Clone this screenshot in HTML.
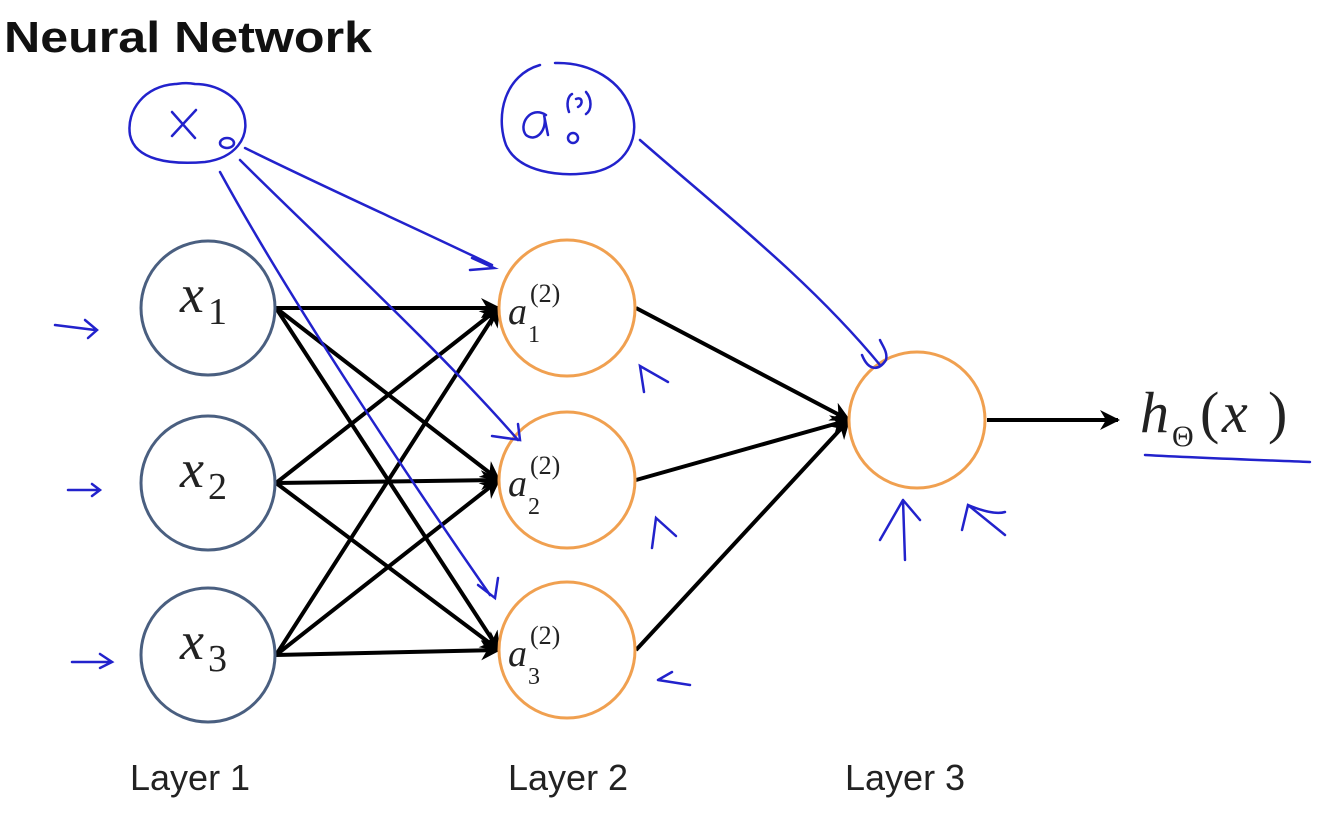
<!DOCTYPE html>
<html><head><meta charset="utf-8"><style>
html,body{margin:0;padding:0;background:#fff;}
svg{display:block;}
.m{font-family:"Liberation Serif",serif;font-style:italic;fill:#222;}
.n{font-family:"Liberation Serif",serif;fill:#222;}
.lab{font-family:"Liberation Sans",sans-serif;font-size:36px;fill:#222;}
</style></head><body>
<svg width="1324" height="834" viewBox="0 0 1324 834" xmlns="http://www.w3.org/2000/svg">
<defs>
<marker id="ah" viewBox="0 0 10 10" refX="9" refY="5" markerWidth="5" markerHeight="5" orient="auto-start-reverse" markerUnits="strokeWidth">
<path d="M0,0 L10,5 L0,10 L3,5 z" fill="#000"/>
</marker>
</defs>
<text x="4" y="52" font-family="Liberation Sans, sans-serif" font-weight="bold" font-size="44" textLength="368" lengthAdjust="spacingAndGlyphs" fill="#111">Neural Network</text>

<g stroke="#000" stroke-width="4" fill="none" marker-end="url(#ah)">
<line x1="276" y1="308" x2="499" y2="308"/>
<line x1="276" y1="308" x2="499" y2="480"/>
<line x1="276" y1="308" x2="499" y2="650"/>
<line x1="276" y1="483" x2="499" y2="308"/>
<line x1="276" y1="483" x2="499" y2="480"/>
<line x1="276" y1="483" x2="499" y2="650"/>
<line x1="276" y1="655" x2="499" y2="308"/>
<line x1="276" y1="655" x2="499" y2="480"/>
<line x1="276" y1="655" x2="499" y2="650"/>
<line x1="636" y1="308" x2="849" y2="420"/>
<line x1="636" y1="480" x2="849" y2="420"/>
<line x1="636" y1="650" x2="849" y2="420"/>
<line x1="987" y1="420" x2="1118" y2="420"/>
</g>

<g fill="#fff" stroke="#4a5f80" stroke-width="3">
<circle cx="208" cy="308" r="67"/>
<circle cx="208" cy="483" r="67"/>
<circle cx="208" cy="655" r="67"/>
</g>
<g fill="#fff" stroke="#f0a050" stroke-width="3">
<circle cx="567" cy="308" r="68"/>
<circle cx="567" cy="480" r="68"/>
<circle cx="567" cy="650" r="68"/>
<circle cx="917" cy="420" r="68"/>
</g>

<text class="m" x="180" y="312" font-size="54">x</text><text class="n" x="208" y="324" font-size="38">1</text>
<text class="m" x="180" y="487" font-size="54">x</text><text class="n" x="208" y="499" font-size="38">2</text>
<text class="m" x="180" y="659" font-size="54">x</text><text class="n" x="208" y="671" font-size="38">3</text>

<g>
<text class="m" x="508" y="324" font-size="38">a</text><text class="n" x="528" y="342" font-size="24">1</text><text class="n" x="530" y="302" font-size="26">(2)</text>
<text class="m" x="508" y="496" font-size="38">a</text><text class="n" x="528" y="514" font-size="24">2</text><text class="n" x="530" y="474" font-size="26">(2)</text>
<text class="m" x="508" y="666" font-size="38">a</text><text class="n" x="528" y="684" font-size="24">3</text><text class="n" x="530" y="644" font-size="26">(2)</text>
</g>

<text class="m" x="1140" y="432" font-size="58">h</text>
<text class="n" x="1172" y="446" font-size="30">Θ</text>
<text class="n" x="1200" y="432" font-size="58">(</text>
<text class="m" x="1222" y="432" font-size="58">x</text>
<text class="n" x="1268" y="432" font-size="58">)</text>

<text class="lab" x="130" y="790">Layer 1</text>
<text class="lab" x="508" y="790">Layer 2</text>
<text class="lab" x="845" y="790">Layer 3</text>

<g stroke="#2222cc" stroke-width="2.5" fill="none" stroke-linecap="round">
<path d="M175,84 C145,86 126,110 130,135 C135,160 170,165 205,162 C235,158 250,138 244,115 C238,95 215,84 195,84 C185,82 178,84 175,84"/>
<path d="M172,112 L195,138 M196,110 L172,136"/>
<ellipse cx="227" cy="143" rx="7" ry="5"/>
<path d="M540,65 C505,75 495,115 506,145 C518,172 560,178 595,172 C625,165 640,140 632,112 C622,80 590,62 555,63"/>
<path d="M546,115 C530,105 518,125 526,135 C536,143 548,130 544,115 L548,135"/>
<ellipse cx="573" cy="138" rx="5" ry="5"/>
<path d="M569,112 C566,104 568,96 572,94 M576,99 C582,96 584,104 578,107 M586,92 C592,99 592,110 586,114"/>
<path d="M245,148 C330,190 420,230 492,265"/>
<path d="M472,258 L494,268 L470,270"/>
<path d="M240,160 C310,230 440,350 518,440"/>
<path d="M492,436 L520,440 L518,424"/>
<path d="M220,172 C290,300 410,480 490,595"/>
<path d="M478,585 L495,598 L498,578"/>
<path d="M640,140 C720,210 810,280 880,365"/>
<path d="M862,355 C868,370 878,372 886,360 C888,352 882,345 880,340"/>
<path d="M55,325 L95,330 M85,320 L97,330 L88,338"/>
<path d="M68,490 L100,490 M92,484 L100,490 L92,496"/>
<path d="M72,662 L110,662 M100,654 L112,662 L100,668"/>
<path d="M644,392 L640,366 L668,382"/>
<path d="M652,548 L656,518 L676,536"/>
<path d="M658,680 L690,685 M658,680 L672,672"/>
<path d="M905,560 L903,500 M903,500 L880,540 M903,500 L920,520"/>
<path d="M962,530 L968,505 C980,510 995,515 1005,512 M968,505 L1005,535"/>
<path d="M1145,455 C1200,458 1260,460 1310,462"/>
</g>
</svg>
</body></html>
